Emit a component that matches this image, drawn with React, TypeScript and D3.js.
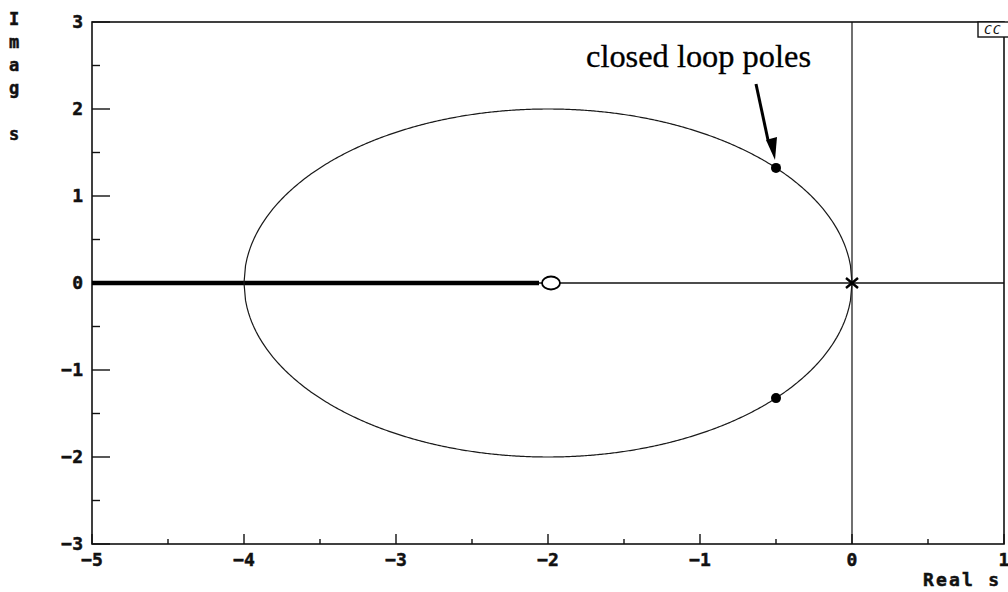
import React from "react";
import * as d3 from "d3";

// Open-loop system G(s) = K (s + 2) / s^2
const openLoopPoles = [{ re: 0, im: 0 }]; // double pole at origin
const openLoopZeros = [{ re: -2, im: 0 }];
const closedLoopGain = 1; // poles at -0.5 ± 1.32j

const xTicks = [-5, -4, -3, -2, -1, 0, 1];
const yTicks = [-3, -2, -1, 0, 1, 2, 3];
const xMinorTicks = [-4.5, -3.5, -2.5, -1.5, -0.5, 0.5];
const yMinorTicks = [-2.5, -1.5, -0.5, 0.5, 1.5, 2.5];
const yLabelLetters = ["I", "m", "a", "g", "", "s"];

// Roots of s^2 + K s + 2K = 0
function closedLoopRoots(K: number) {
  const disc = K * K - 8 * K;
  if (disc < 0) {
    const im = Math.sqrt(-disc) / 2;
    return [
      { re: -K / 2, im },
      { re: -K / 2, im: -im },
    ];
  }
  const r = Math.sqrt(disc) / 2;
  return [
    { re: -K / 2 + r, im: 0 },
    { re: -K / 2 - r, im: 0 },
  ];
}

const W = 1008;
const H = 592;
const left = 92;
const right = 1004;
const top = 22;
const bottom = 544;

export default function App() {
  const x = d3.scaleLinear().domain([-5, 1]).range([left, right]);
  const y = d3.scaleLinear().domain([-3, 3]).range([bottom, top]);

  // complex branches of the locus, 0 < K < 8
  const gains = d3.range(0, 8.0001, 0.02);
  const upper = gains.map((K) => closedLoopRoots(K)[0]);
  const lower = gains.map((K) => closedLoopRoots(K)[1]);
  const line = d3
    .line<{ re: number; im: number }>()
    .x((d) => x(d.re))
    .y((d) => y(d.im))
    .curve(d3.curveLinear);

  const cl = closedLoopRoots(closedLoopGain);
  const zero = openLoopZeros[0];
  const pole = openLoopPoles[0];

  const monoFont = "'DejaVu Sans Mono', monospace";
  const fmt = (t: number) => (t < 0 ? "\u2212" + Math.abs(t) : String(t));

  return (
    <svg
      width={W}
      height={H}
      style={{ position: "absolute", left: 0, top: 0, background: "#fff" }}
    >
      {/* frame */}
      <rect
        x={left}
        y={top}
        width={right - left}
        height={bottom - top}
        fill="none"
        stroke="#111"
        strokeWidth={1.6}
      />
      {/* axes through the origin */}
      <line x1={x(0)} x2={x(0)} y1={top} y2={bottom} stroke="#111" strokeWidth={1.2} />
      <line x1={left} x2={right} y1={y(0)} y2={y(0)} stroke="#111" strokeWidth={1.3} />

      {/* ticks */}
      {xTicks.map((t) => (
        <line key={"xt" + t} x1={x(t)} x2={x(t)} y1={bottom} y2={bottom - 10} stroke="#111" strokeWidth={1.4} />
      ))}
      {xMinorTicks.map((t) => (
        <line key={"xm" + t} x1={x(t)} x2={x(t)} y1={bottom} y2={bottom - 5} stroke="#111" strokeWidth={1.4} />
      ))}
      {yTicks.map((t) => (
        <line key={"yt" + t} x1={left} x2={left + 18} y1={y(t)} y2={y(t)} stroke="#111" strokeWidth={1.4} />
      ))}
      {yMinorTicks.map((t) => (
        <line key={"ym" + t} x1={left} x2={left + 8} y1={y(t)} y2={y(t)} stroke="#111" strokeWidth={1.4} />
      ))}

      {/* tick labels */}
      <g
        fontFamily={monoFont}
        fontWeight="bold"
        fontSize={18}
        fill="#111"
        stroke="#111"
        strokeWidth={0.5}
      >
        {xTicks.map((t) => (
          <text key={"xl" + t} x={x(t)} y={566} textAnchor="middle">
            {fmt(t)}
          </text>
        ))}
        {yTicks.map((t) => (
          <text key={"yl" + t} x={83} y={y(t)} dy="0.36em" textAnchor="end">
            {fmt(t)}
          </text>
        ))}
      </g>

      {/* axis titles */}
      <g
        fontFamily={monoFont}
        fontWeight="bold"
        fill="#111"
        stroke="#111"
        strokeWidth={0.5}
      >
        {yLabelLetters.map((c, i) => (
          <text key={"yc" + i} x={14} y={25 + i * 23} textAnchor="middle" fontSize={17}>
            {c}
          </text>
        ))}
        <text x={923} y={586} fontSize={18} textLength={76} lengthAdjust="spacing">
          Real s
        </text>
      </g>

      {/* root locus: real-axis branch from -inf to the zero */}
      <line
        x1={left}
        x2={x(zero.re) - 9}
        y1={y(0)}
        y2={y(0)}
        stroke="#000"
        strokeWidth={4.5}
      />
      {/* complex branches */}
      <path d={line(upper) || ""} fill="none" stroke="#1a1a1a" strokeWidth={1.2} />
      <path d={line(lower) || ""} fill="none" stroke="#1a1a1a" strokeWidth={1.2} />

      {/* open-loop zero */}
      <ellipse
        cx={x(zero.re) + 3}
        cy={y(zero.im)}
        rx={9}
        ry={6.5}
        fill="#fff"
        stroke="#000"
        strokeWidth={1.8}
      />
      {/* open-loop pole (double) */}
      <g stroke="#000" strokeWidth={2.4}>
        <line x1={x(pole.re) - 6} x2={x(pole.re) + 6} y1={y(pole.im) - 5} y2={y(pole.im) + 5} />
        <line x1={x(pole.re) - 6} x2={x(pole.re) + 6} y1={y(pole.im) + 5} y2={y(pole.im) - 5} />
      </g>

      {/* closed-loop poles */}
      {cl.map((p, i) => (
        <circle key={"cl" + i} cx={x(p.re)} cy={y(p.im)} r={5} fill="#000" />
      ))}

      {/* annotation */}
      <text
        x={586}
        y={67}
        fontFamily="'Liberation Serif', 'Times New Roman', serif"
        fontSize={31}
        textLength={225}
        lengthAdjust="spacingAndGlyphs"
        fill="#000"
        stroke="#000"
        strokeWidth={0.3}
      >
        closed loop poles
      </text>
      <line x1={756} y1={84} x2={768} y2={140} stroke="#000" strokeWidth={3} />
      <path
        d={`M ${x(cl[0].re) - 1} ${y(cl[0].im) - 8} L ${x(cl[0].re) - 10} ${y(cl[0].im) - 28} L ${x(cl[0].re) + 1} ${y(cl[0].im) - 31} Z`}
        fill="#000"
      />

      {/* corner tag */}
      <rect x={978} y={top} width={40} height={15} fill="#fff" stroke="#111" strokeWidth={1.4} />
      <text
        x={984}
        y={34}
        fontFamily={monoFont}
        fontStyle="italic"
        fontSize={13}
        fill="#111"
        letterSpacing={1}
      >
        CC
      </text>
    </svg>
  );
}
